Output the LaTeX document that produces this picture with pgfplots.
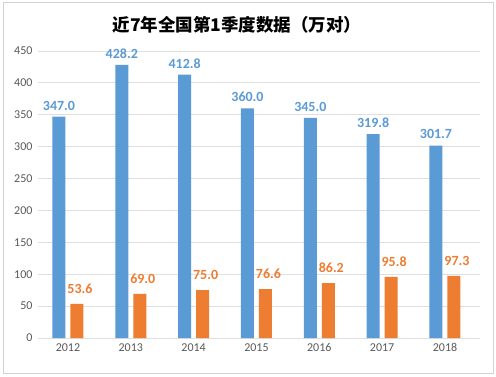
\documentclass[border=0pt]{standalone}
\usepackage{pgfplots}
\pgfplotsset{compat=1.18}
\usepackage{fontspec}
\setmainfont{Carlito}
\newfontfamily\cjk{Noto Sans CJK SC}
\definecolor{myblue}{HTML}{5B9BD5}
\definecolor{myorange}{HTML}{ED7D31}
\definecolor{txt}{HTML}{595959}
\begin{document}
\begin{tikzpicture}[x=1pt,y=1pt]
\fill[white] (0,0) rectangle (496,376);
\draw[gray!35, line width=1pt] (3,3) rectangle (493,373);
\node[font=\cjk\bfseries\fontsize{17.5}{20}\selectfont] at (237,351) {近7年全国第1季度数据（万对）};
\begin{axis}[at={(38pt,38pt)}, anchor=south west, scale only axis,
  width=442pt, height=287pt,
  ymin=0, ymax=450, ytick={0,50,...,450},
  xmin=-0.477, xmax=6.557, xtick=data,
  xticklabels={2012,2013,2014,2015,2016,2017,2018},
  ybar=5pt, bar width=13pt,
  axis line style={draw=none}, major tick length=0pt,
  ymajorgrids, grid style={gray!25, line width=0.8pt},
  tick label style={font=\fontsize{12}{14}\selectfont, text=txt},
  /pgf/number format/assume math mode=true,
  yticklabel style={xshift=-2pt},
  xticklabel style={yshift=-2pt},
  nodes near coords,
  nodes near coords style={font=\bfseries\fontsize{14}{16}\selectfont, yshift=3pt,
    /pgf/number format/fixed, /pgf/number format/fixed zerofill,
    /pgf/number format/precision=1, /pgf/number format/assume math mode=true},
]
\addplot[fill=myblue, draw=none, nodes near coords style={text=myblue}] coordinates {
 (0,347.0) (1,428.2) (2,412.8) (3,360.0) (4,345.0) (5,319.8) (6,301.7)};
\addplot[fill=myorange, draw=none, nodes near coords style={text=myorange, yshift=4pt, xshift=3pt}] coordinates {
 (0,53.6) (1,69.0) (2,75.0) (3,76.6) (4,86.2) (5,95.8) (6,97.3)};
\end{axis}
\end{tikzpicture}
\end{document}
